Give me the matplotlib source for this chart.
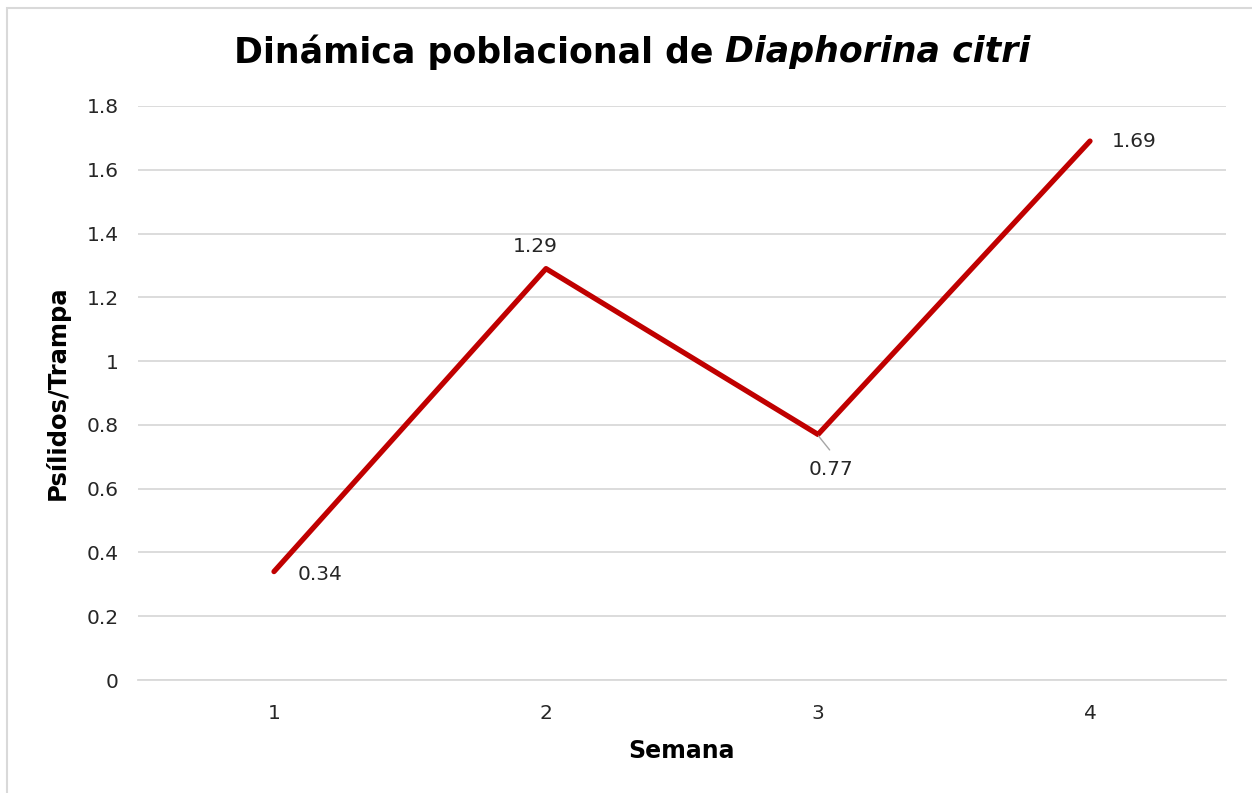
import matplotlib
matplotlib.use("Agg")
import matplotlib.pyplot as plt
from matplotlib.patches import Rectangle

weeks = [1, 2, 3, 4]
values = [0.34, 1.29, 0.77, 1.69]
yticks = [0, 0.2, 0.4, 0.6, 0.8, 1.0, 1.2, 1.4, 1.6, 1.8]
ytick_labels = ["0", "0.2", "0.4", "0.6", "0.8", "1", "1.2", "1.4", "1.6", "1.8"]
title_main = "Dinámica poblacional de "
title_species = "Diaphorina citri"
xlabel = "Semana"
ylabel = "Psílidos/Trampa"

plt.rcParams['font.family'] = ['DejaVu Sans']
fig = plt.figure(figsize=(12.52, 7.93), dpi=100)
fig.patch.set_facecolor("white")
fig.patches.append(Rectangle((7/1252, -0.01), 1.2, 1 - 8/793 + 0.01, transform=fig.transFigure,
                             fill=False, edgecolor="#D9D9D9", linewidth=1.5))

ax = fig.add_axes([138/1252, 1 - 680/793, (1226 - 138)/1252, (680 - 106)/793])
ax.plot(weeks, values, color="#C00000", linewidth=3.8, solid_capstyle="round", zorder=3)
ax.set_xlim(0.5, 4.5)
ax.set_ylim(0, 1.8)
ax.set_yticks(yticks)
ax.set_yticklabels(ytick_labels)
ax.set_xticks(weeks)
ax.set_xticklabels([str(w) for w in weeks])
ax.grid(axis="y", color="#D9D9D9", linewidth=1.3)
ax.set_axisbelow(True)
for s in ["top", "right", "left"]:
    ax.spines[s].set_visible(False)
ax.spines["bottom"].set_color("#D9D9D9")
ax.spines["bottom"].set_linewidth(1.3)
ax.tick_params(axis="both", length=0, labelsize=14.5, colors="#262626", pad=14)
ax.tick_params(axis="x", pad=17)

ax.set_xlabel(xlabel, fontsize=17, fontweight="bold", color="black", labelpad=12)
ax.set_ylabel(ylabel, fontsize=17.5, fontweight="bold", color="black", labelpad=12)

# data labels
lab_kw = dict(fontsize=14.5, color="#262626")
ax.annotate(f"{values[0]:.2f}", (weeks[0], values[0]), xytext=(17, -2), textcoords="offset points",
            ha="left", va="center", **lab_kw)
ax.annotate(f"{values[1]:.2f}", (weeks[1], values[1]), xytext=(-8, 16), textcoords="offset points",
            ha="center", va="center", **lab_kw)
ax.annotate(f"{values[2]:.2f}", (weeks[2], values[2]), xytext=(9, -25), textcoords="offset points",
            ha="center", va="center", **lab_kw)
ax.annotate("", (weeks[2] + 0.002, values[2] - 0.005), xytext=(8, -10), textcoords="offset points",
            arrowprops=dict(arrowstyle="-", color="#A6A6A6", lw=1.0, shrinkA=0, shrinkB=0))
ax.annotate(f"{values[3]:.2f}", (weeks[3], values[3]), xytext=(16, 0), textcoords="offset points",
            ha="left", va="center", **lab_kw)

# title: bold + bold italic pieces
fig.canvas.draw()
r = fig.canvas.get_renderer()
t1 = fig.text(0, 1 - 52/793, title_main, fontsize=25, fontweight="bold", va="center", ha="left")
t2 = fig.text(0, 1 - 52/793, title_species, fontsize=25, fontweight="bold", style="italic",
              va="center", ha="left")
w1 = t1.get_window_extent(r).width
w2 = t2.get_window_extent(r).width
cx = 632
x0 = cx - (w1 + w2) / 2
t1.set_x(x0 / 1252)
t2.set_x((x0 + w1) / 1252)

fig.savefig("out.png", dpi=100)
